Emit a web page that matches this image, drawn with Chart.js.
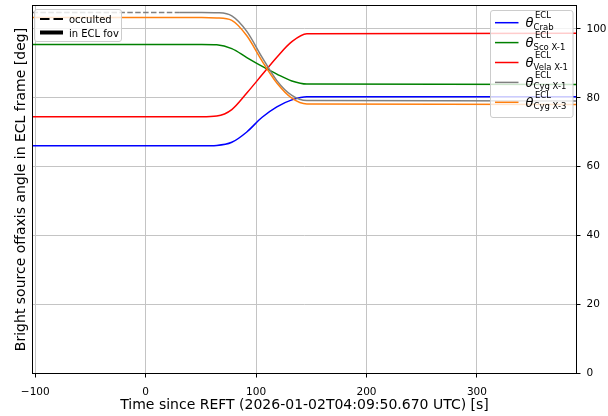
<!DOCTYPE html>
<html>
<head>
<meta charset="utf-8">
<script src="https://cdn.jsdelivr.net/npm/chart.js@4.4.1/dist/chart.umd.min.js"></script>
<style>
  html, body { margin: 0; padding: 0; background: #fff; }
  #wrap { width: 608px; height: 416px; }
</style>
</head>
<body>
<div id="wrap"><canvas id="angles" width="608" height="416"></canvas></div>
<script>
// time since REFT [s], shared by every source
const times = [-102.5, 31, 50.8, 64.4, 78, 91.6, 105.2, 118.8, 132.4, 146, 390.2];

// off-axis angle in ECL frame [deg]
const crab  = [66.1, 66.1, 66.1, 66.2, 67.1, 70.1, 74.3, 77.4, 79.4, 80.35, 80.35];
const scoX1 = [95.5, 95.5, 95.5, 95.4, 94.3, 91.7, 89.2, 86.9, 84.9, 84.0, 83.9];
const velaX1 = [74.5, 74.5, 74.5, 74.7, 76.6, 81.4, 86.6, 91.8, 96.3, 98.6, 98.75];
const cygX1 = [104.8, 104.8, 104.8, 104.7, 103.8, 99.3, 91.9, 85.0, 80.7, 79.2, 79.1];
const cygX3 = [103.3, 103.3, 103.3, 103.2, 102.5, 98.0, 90.8, 84.3, 79.9, 78.2, 78.1];

const sourceNames = ["Crab", "Sco X-1", "Vela X-1", "Cyg X-1", "Cyg X-3"];
const sourceColors = ["#0000ff", "#008000", "#ff0000", "#808080", "#ff7f0e"];
const sourceValues = [crab, scoX1, velaX1, cygX1, cygX3];

// Cyg X-1 is behind the Earth until this time
const cygX1OccultEnd = 31;

const xTicks = [-100, 0, 100, 200, 300];
const yTicks = [0, 20, 40, 60, 80, 100];
const xMin = -102.5, xMax = 390.2;
const yMin = 0, yMax = 106.8;

const FONT = "DejaVu Sans";
const occultDash = [5.5, 2.4];

const datasets = sourceNames.map((name, i) => {
  const ds = {
    label: name,
    data: times.map((t, k) => ({ x: t, y: sourceValues[i][k] })),
    borderColor: sourceColors[i],
    borderWidth: 1.5,
    pointRadius: 0,
    cubicInterpolationMode: "monotone",
    fill: false,
    xAxisID: "x",
    yAxisID: "y",
    order: sourceNames.length - 1 - i, // later sources drawn on top
  };
  if (name === "Cyg X-1") {
    ds.segment = {
      borderDash: (ctx) => (ctx.p1.parsed.x <= cygX1OccultEnd ? occultDash : undefined),
    };
  }
  return ds;
});

// no extra room for tick labels sticking out past the plot edges
const noLabelPadding = (s) => {
  s.paddingTop = 0;
  s.paddingBottom = 0;
  s.paddingLeft = 0;
  s.paddingRight = 0;
};

// box with rounded corners, white and slightly see-through like mpl legends
const legendBox = (ctx, x, y, w, h) => {
  ctx.beginPath();
  ctx.roundRect(x, y, w, h, 2.5);
  ctx.fillStyle = "rgba(255,255,255,0.8)";
  ctx.fill();
  ctx.strokeStyle = "#cccccc";
  ctx.lineWidth = 1;
  ctx.stroke();
};

const handle = (ctx, x0, x1, y, color, width, dash) => {
  ctx.beginPath();
  ctx.setLineDash(dash || []);
  ctx.strokeStyle = color;
  ctx.lineWidth = width;
  ctx.moveTo(x0, y);
  ctx.lineTo(x1, y);
  ctx.stroke();
  ctx.setLineDash([]);
};

const frameAndLegends = {
  id: "frameAndLegends",
  afterDatasetsDraw(chart) {
    const { ctx, chartArea: a } = chart;
    ctx.save();

    // axes frame
    ctx.strokeStyle = "#000";
    ctx.lineWidth = 1;
    ctx.strokeRect(a.left, a.top, a.right - a.left, a.bottom - a.top);

    // line style legend, upper left
    const lx = a.left + 2, ly = a.top + 4;
    legendBox(ctx, lx, ly, 87, 32);
    handle(ctx, lx + 5.5, lx + 28.5, ly + 9.5, "#000", 2, [9.5, 4]);
    handle(ctx, lx + 5.5, lx + 28.5, ly + 23, "#000", 4);
    ctx.fillStyle = "#000";
    ctx.font = `10px "${FONT}"`;
    ctx.textBaseline = "alphabetic";
    ctx.textAlign = "left";
    ctx.fillText("occulted", lx + 34.5, ly + 13.2);
    ctx.fillText("in ECL fov", lx + 34.5, ly + 27);

    // source legend, upper right
    const rx = a.right - 86, ry = a.top + 5;
    legendBox(ctx, rx, ry, 82.5, 107);
    sourceNames.forEach((name, i) => {
      const y = ry + 12.2 + 19.9 * i;
      handle(ctx, rx + 4.5, rx + 28, y, sourceColors[i], 1.5);
      ctx.fillStyle = "#000";
      ctx.font = `italic 13px "${FONT}"`;
      ctx.fillText("\u03b8", rx + 35, y + 4.3);
      ctx.font = `8.5px "${FONT}"`;
      ctx.fillText("ECL", rx + 44.5, y - 4.4);
      ctx.fillText(name, rx + 43, y + 7);
    });

    ctx.restore();
  },
};

new Chart(document.getElementById("angles"), {
  type: "line",
  data: { datasets },
  plugins: [frameAndLegends],
  options: {
    responsive: false,
    animation: false,
    events: [],
    layout: { padding: { top: 5.5, left: 0, right: 0, bottom: 0 } },
    plugins: {
      legend: { display: false },
      tooltip: { enabled: false },
    },
    scales: {
      x: {
        type: "linear",
        position: "bottom",
        min: xMin,
        max: xMax,
        afterBuildTicks: (s) => { s.ticks = xTicks.map((v) => ({ value: v })); },
        afterFit: (s) => { s.height = 42.5; noLabelPadding(s); },
        border: { display: false },
        grid: { color: "#c4c4c4", lineWidth: 1, tickColor: "#000", tickLength: 4, tickWidth: 1 },
        ticks: {
          color: "#000",
          font: { family: FONT, size: 10.5 },
          padding: 8.5,
          maxRotation: 0,
          autoSkip: false,
          callback: (v) => String(v).replace("-", "\u2212"),
        },
        title: {
          display: true,
          text: "Time since REFT (2026-01-02T04:09:50.670 UTC) [s]",
          color: "#000",
          font: { family: FONT, size: 14 },
          padding: { top: 0, bottom: 2 },
        },
      },
      y: {
        type: "linear",
        position: "right",
        min: yMin,
        max: yMax,
        afterBuildTicks: (s) => { s.ticks = yTicks.map((v) => ({ value: v })); },
        afterFit: (s) => { s.width = 31.5; noLabelPadding(s); },
        border: { display: false },
        grid: { color: "#c4c4c4", lineWidth: 1, tickColor: "#000", tickLength: 4, tickWidth: 1 },
        ticks: {
          color: "#000",
          font: { family: FONT, size: 10.5 },
          padding: 6,
          autoSkip: false,
        },
      },
      yTitle: {
        type: "linear",
        position: "left",
        afterFit: (s) => { s.width = 32.5; noLabelPadding(s); },
        border: { display: false },
        grid: { display: false },
        ticks: { display: false },
        title: {
          display: true,
          text: "Bright source offaxis angle in ECL frame [deg]",
          color: "#000",
          font: { family: FONT, size: 14 },
          padding: { top: 12.5, bottom: 0 },
        },
      },
    },
  },
});
</script>
</body>
</html>
